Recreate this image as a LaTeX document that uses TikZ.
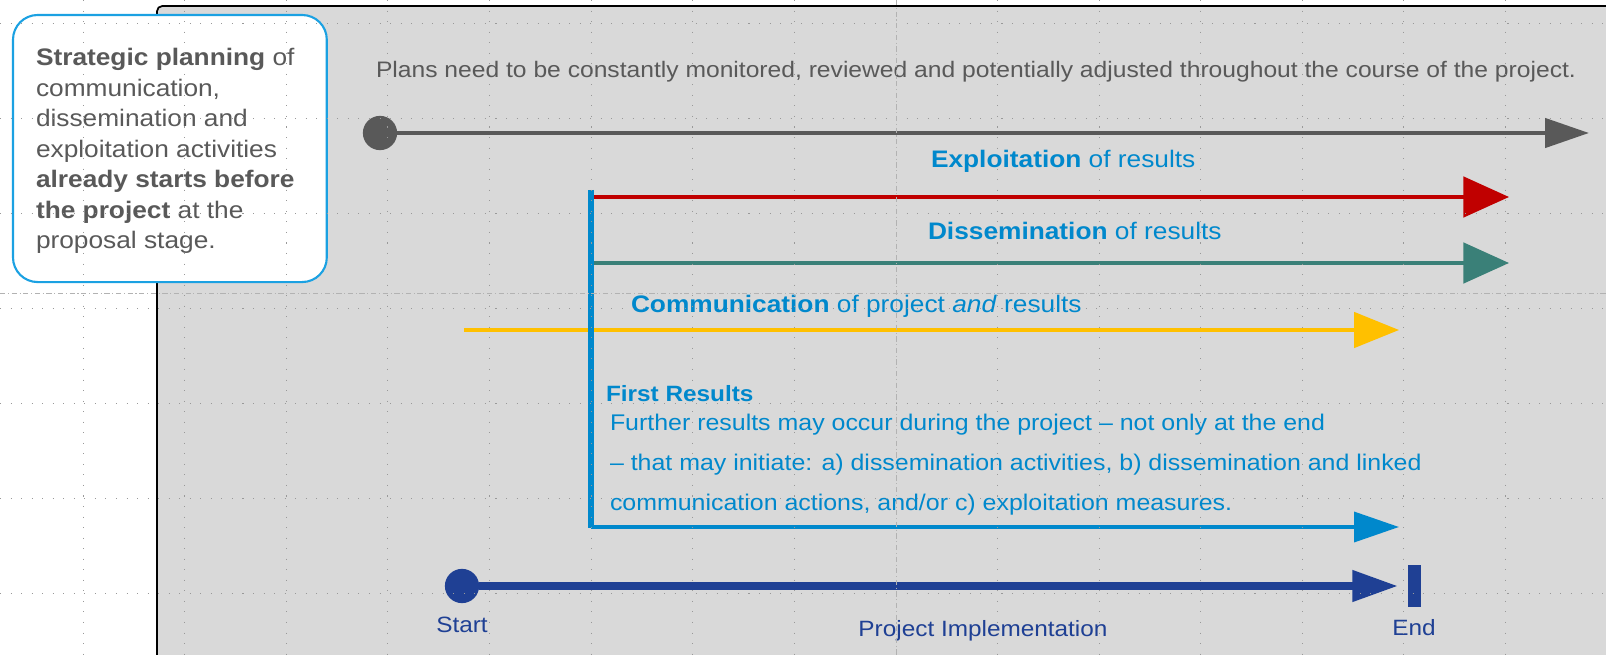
\documentclass[tikz,border=0pt]{standalone}
\usepackage{fontspec}
\setmainfont{Liberation Sans}[FakeStretch=1.1]
\usetikzlibrary{arrows.meta,positioning}
\definecolor{panelgray}{RGB}{217,217,217}
\definecolor{textgray}{RGB}{89,89,89}
\definecolor{resblue}{RGB}{0,136,204}
\definecolor{boxblue}{RGB}{27,161,226}
\definecolor{expred}{RGB}{192,0,0}
\definecolor{disteal}{RGB}{58,128,120}
\definecolor{comyellow}{RGB}{255,192,0}
\definecolor{projblue}{RGB}{31,64,148}

\begin{document}
\begin{tikzpicture}[x=0.02cm, y=-0.02cm, inner sep=0pt, outer sep=0pt,
		guide/.style = {gray!80, line width=0.5pt, dash pattern=on 0.6pt off 5.4pt},
		midguide/.style = {gray!60, line width=0.4pt, dash pattern=on 3pt off 1.5pt on 0.6pt off 1.5pt},
		dot/.style = {circle, minimum size=19.5pt},
		lbl/.style = {font=\fontsize{13.6}{16}\selectfont, text=resblue, anchor=base west},
		projtext/.style = {text=projblue, font=\fontsize{12.6}{15}\selectfont},
		wide/.style = {line width=2.1pt, -{Triangle[length=26pt,width=23pt]}},
		narrow/.style = {line width=2.1pt, -{Triangle[length=25.5pt,width=17pt]}}]
		\useasboundingbox (0,0) rectangle (1606,655);
		\clip (0,0) rectangle (1606,655);
		\draw[line width=1pt, fill=panelgray, rounded corners=3pt] (157,6) rectangle (1660,700);
		
		\node[draw=boxblue, line width=1.2pt, fill=white, rounded corners=14pt, anchor=north west,
			minimum width=178.6pt, minimum height=152pt] (planbox) at (13,15) {};
		\node[anchor=base west, align=left, text=textgray, font=\fontsize{13.6}{17.4}\selectfont] (plantext) at (36,249)
			{\textbf{Strategic planning} of\\communication,\\dissemination and\\exploitation activities\\\textbf{already starts before}\\\textbf{the project} at the\\proposal stage.};
		
		\node[anchor=base west, text=textgray, font=\fontsize{12.75}{15}\selectfont] (plans) at (376,78)
			{Plans need to be constantly monitored, reviewed and potentially adjusted throughout the course of the project.};
		\node[dot, fill=textgray] (plansstart) at (380,133) {};
		\coordinate (plansend) at (1589,133);
		\draw[textgray, line width=2.5pt, -{Triangle[length=25pt,width=16.5pt]}] (plansstart) -- (plansend);
		
		\node[lbl] (exptext) at (931,168) {\textbf{Exploitation} of results};
		\node[lbl] (distext) at (928,240) {\textbf{Dissemination} of results};
		\node[lbl] (comtext) at (631,313) {\textbf{Communication} of project \textit{and} results};
		
		\coordinate (bartop) at (591,190);
		\coordinate (barbot) at (591,528);
		\coordinate (expstart) at (591,197);
		\coordinate (expend) at (1509,197);
		\coordinate (disstart) at (591,263);
		\coordinate (disend) at (1509,263);
		\coordinate (comstart) at (464,330);
		\coordinate (comend) at (1399,330);
		\coordinate (resstart) at (591,527);
		\coordinate (resend) at (1399,527);
		
		\draw[wide, expred] (expstart) -- (expend);
		\draw[wide, disteal] (disstart) -- (disend);
		\draw[comyellow, line width=2.2pt, -{Triangle[length=25.5pt,width=20pt]}] (comstart) -- (comend);
		\draw[narrow, resblue] (resstart) -- (resend);
		\draw[resblue, line width=3.6pt] (bartop) -- (barbot);
		
		\node[anchor=base west, text=resblue, font=\bfseries\fontsize{12.6}{15}\selectfont] (firstres) at (606,401) {First Results};
		\node[anchor=base west, align=left, text=resblue, font=\fontsize{12.9}{22.6}\selectfont] (furthres) at (610,510)
			{Further results may occur during the project -- not only at the end\\-- that may initiate: a) dissemination activities, b) dissemination and linked\\communication actions, and/or c) exploitation measures.};
		
		\node[dot, fill=projblue] (start) at (462,586) {};
		\node[fill=projblue, minimum width=7.4pt, minimum height=23.8pt] (endbar) at (1414,586) {};
		\coordinate (projend) at (1398,586);
		\draw[projblue, line width=4.5pt, -{Triangle[length=26pt,width=17pt]}] (start) -- (projend);
		\node[below=8pt of start, projtext] (startlbl) {Start};
		\node[below=7.4pt of endbar, projtext] (endlbl) {End};
		\node[anchor=base, projtext] (projlbl) at (983,636) {Project Implementation};
		
		\foreach \gx in {0,...,7,9,10,...,14}
			\draw[guide] ({83+101.6*\gx},0) -- ++(0,655);
		\foreach \gy in {0,...,6}
			\draw[guide] (0,{23+95*\gy}) -- ++(1606,0);
		\draw[midguide] (896,0) -- (896,655);
		\draw[midguide] (0,293) -- (1606,293);
\end{tikzpicture}
\end{document}
